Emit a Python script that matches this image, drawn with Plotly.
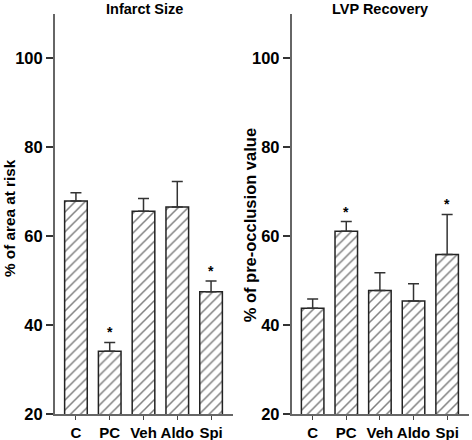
import plotly.graph_objects as go

categories = ["C", "PC", "Veh", "Aldo", "Spi"]

infarct_mean = [67.9, 34.1, 65.6, 66.6, 47.5]
infarct_upper = [69.8, 36.1, 68.5, 72.3, 49.9]
infarct_sig = [False, True, False, False, True]

lvp_mean = [43.8, 61.1, 47.8, 45.4, 55.9]
lvp_upper = [45.9, 63.3, 51.8, 49.3, 64.9]
lvp_sig = [False, True, False, False, True]

panel_titles = ["Infarct Size", "LVP Recovery"]
y_titles = ["% of area at risk", "% of pre-occlusion value"]
y_ticks = [20, 40, 60, 80, 100]

FONT = "Liberation Sans, Arial, Helvetica, sans-serif"
NARROW = "Liberation Sans Narrow, Arial Narrow, Liberation Sans, sans-serif"

fig = go.Figure()

panels = [(infarct_mean, infarct_upper, infarct_sig), (lvp_mean, lvp_upper, lvp_sig)]
for i, (mean, upper, sig) in enumerate(panels):
    xa = "x" if i == 0 else "x2"
    ya = "y" if i == 0 else "y2"
    fig.add_trace(go.Bar(
        x=categories, y=mean, xaxis=xa, yaxis=ya,
        base=0,
        marker=dict(color="white",
                    line=dict(color="#222", width=1.5),
                    pattern=dict(shape="/", fgcolor="black", bgcolor="white",
                                 size=7, solidity=0.22)),
        error_y=dict(type="data", symmetric=False,
                     array=[u - m for u, m in zip(upper, mean)],
                     arrayminus=[0] * len(mean),
                     color="#333", thickness=1.5, width=5.5),
        showlegend=False,
    ))
    for c, u, s in zip(categories, upper, sig):
        if s:
            fig.add_annotation(x=c, y=u, xref=xa, yref=ya, text="*",
                               showarrow=False, yanchor="bottom", yshift=0,
                               font=dict(family=FONT, size=14, color="black", weight="bold"))

axis_common = dict(showline=True, linecolor="#666", linewidth=2,
                   showgrid=False, zeroline=False, automargin=False)

xcommon = dict(range=[-0.62, 4.65], ticks="outside", ticklen=4, tickwidth=1,
               tickcolor="#444",
               tickfont=dict(family=NARROW, size=15, weight="bold"), **axis_common)
ycommon = dict(range=[20, 110], tickvals=y_ticks, ticks="outside", ticklen=7,
               tickwidth=1.5, tickcolor="#333",
               tickfont=dict(family=NARROW, size=16.5, weight="bold"), **axis_common)

left_dom = [0, 0.43]
right_dom = [0.572, 1]

fig.update_layout(
    width=472, height=440,
    margin=dict(l=55, r=3, t=14, b=26),
    paper_bgcolor="white", plot_bgcolor="white",
    bargap=0.33,
    font=dict(family=FONT, color="black"),
    xaxis=dict(domain=left_dom, anchor="y", **xcommon),
    xaxis2=dict(domain=right_dom, anchor="y2", **xcommon),
    yaxis=dict(anchor="x", **ycommon),
    yaxis2=dict(anchor="x2", **ycommon),
)

for dom, title, ytitle, xs, ys, fs in [(left_dom, panel_titles[0], y_titles[0], -45.5, -4.5, 15.3),
                                       (right_dom, panel_titles[1], y_titles[1], -42, -11.5, 16.5)]:
    fig.add_annotation(x=(dom[0] + dom[1]) / 2, y=1.0, xref="paper", yref="paper",
                       text=title, showarrow=False, xanchor="center", yanchor="middle",
                       yshift=5, font=dict(family=FONT, size=14.5, weight="bold"))
    fig.add_annotation(x=dom[0], y=0.5, xref="paper", yref="paper",
                       text=ytitle, showarrow=False, xanchor="center", yanchor="middle",
                       textangle=-90, xshift=xs, yshift=ys,
                       font=dict(family=FONT, size=fs, weight="bold"))

fig.write_html("out.html", config={"displayModeBar": False},
               post_script="document.body.style.margin='0';")
